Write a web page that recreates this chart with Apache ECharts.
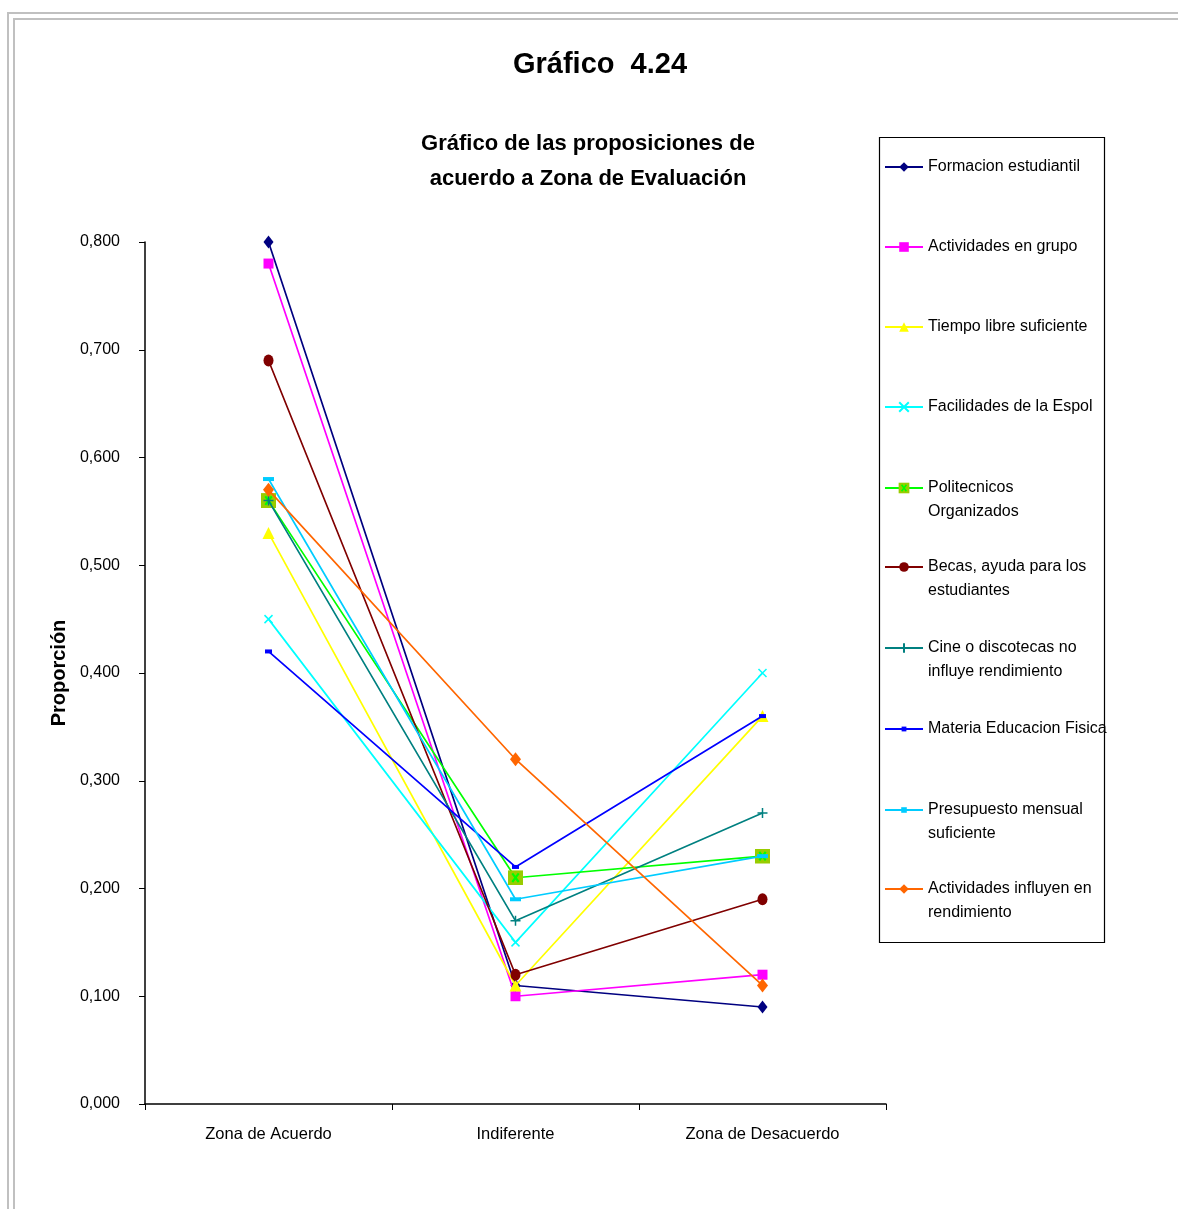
<!DOCTYPE html>
<html>
<head>
<meta charset="utf-8">
<script src="https://cdn.jsdelivr.net/npm/echarts@6/dist/echarts.min.js"></script>
<style>
html,body{margin:0;padding:0;background:#fff;}
#chart{width:1178px;height:1209px;}
</style>
</head>
<body>
<div id="chart"></div>
<script>
const categories = ['Zona de Acuerdo', 'Indiferente', 'Zona de Desacuerdo'];
const yTicks = [0, 0.1, 0.2, 0.3, 0.4, 0.5, 0.6, 0.7, 0.8];

const formacion    = [0.80, 0.11, 0.09];
const actGrupo     = [0.78, 0.10, 0.12];
const tiempoLibre  = [0.53, 0.11, 0.36];
const facilidades  = [0.45, 0.15, 0.40];
const politecnicos = [0.56, 0.21, 0.23];
const becas        = [0.69, 0.12, 0.19];
const cine         = [0.56, 0.17, 0.27];
const materia      = [0.42, 0.22, 0.36];
const presupuesto  = [0.58, 0.19, 0.23];
const actInfluyen  = [0.57, 0.32, 0.11];

const names = [
  'Formacion estudiantil',
  'Actividades en grupo',
  'Tiempo libre suficiente',
  'Facilidades de la Espol',
  'Politecnicos\nOrganizados',
  'Becas, ayuda para los\nestudiantes',
  'Cine o discotecas no\ninfluye rendimiento',
  'Materia Educacion Fisica',
  'Presupuesto mensual\nsuficiente',
  'Actividades influyen en\nrendimiento'
];
const values = [formacion, actGrupo, tiempoLibre, facilidades, politecnicos, becas, cine, materia, presupuesto, actInfluyen];
const colors = ['#000080', '#FF00FF', '#FFFF00', '#00FFFF', '#00FF00', '#800000', '#008080', '#0000FF', '#00CCFF', '#FF6600'];

const poliSvg = "<svg xmlns='http://www.w3.org/2000/svg' width='14' height='14'><rect width='14' height='14' fill='#99CC00'/><path d='M4,3L10,11M10,3L4,11' stroke='#00FF00' stroke-width='2'/></svg>";
const symbols = [
  {s: 'diamond', size: [10, 13], leg: 12},
  {s: 'rect', size: [10, 10], leg: 12},
  {s: 'triangle', size: [12, 12], leg: 12},
  {s: 'path://M0,0L10,10M10,0L0,10', size: [8, 8], stroke: true, leg: 12},
  {s: 'image://data:image/svg+xml;charset=utf-8,' + encodeURIComponent(poliSvg), size: [15, 15], leg: 14},
  {s: 'circle', size: [10, 12], leg: 12},
  {s: 'path://M5,0L5,10M0,5L10,5', size: [10, 10], stroke: true, leg: 12},
  {s: 'rect', size: [7, 4], leg: 6},
  {s: 'rect', size: [11, 4], leg: 7},
  {s: 'diamond', size: [11, 14], leg: 12}
];

const FONT = '"Liberation Sans", Arial, sans-serif';
const legendY = [165, 245, 325, 405, 486, 565, 646, 727, 808, 887];

const series = names.map((n, i) => {
  const sym = symbols[i];
  return {
    name: n,
    type: 'line',
    data: values[i],
    symbol: sym.s,
    symbolSize: sym.size,
    lineStyle: {color: colors[i], width: 1.7},
    itemStyle: sym.stroke
      ? {color: colors[i], borderColor: colors[i], borderWidth: 1.5}
      : {color: colors[i]},
    z: 2 + i
  };
});

const legends = names.map((n, i) => ({
  data: [n],
  left: 884,
  top: legendY[i] - 6,
  orient: 'vertical',
  padding: 0,
  itemWidth: 38,
  itemHeight: symbols[i].leg,
  selectedMode: false,
  formatter: (name) => name.split('\n')[0],
  textStyle: {fontFamily: FONT, fontSize: 16, color: '#000', padding: [0, 0, 0, 0]}
}));

const secondLines = [];
names.forEach((n, i) => {
  const parts = n.split('\n');
  if (parts.length > 1) {
    secondLines.push({
      type: 'text', left: 928, top: legendY[i] + 27 - 9,
      style: {text: parts[1], font: '16px ' + FONT, fill: '#000'}
    });
  }
});

const chart = echarts.init(document.getElementById('chart'), null, {renderer: 'canvas'});
chart.setOption({
  animation: false,
  backgroundColor: '#fff',
  title: [
    {text: 'Gráfico  4.24', left: 595, top: 45, textAlign: 'center',
     textStyle: {fontFamily: FONT, fontSize: 29, fontWeight: 'bold', color: '#000'}},
    {text: 'Gráfico de las proposiciones de\nacuerdo a Zona de Evaluación', left: 583, top: 121, textAlign: 'center',
     textStyle: {fontFamily: FONT, fontSize: 22, fontWeight: 'bold', color: '#000', lineHeight: 35}}
  ],
  legend: legends,
  grid: {left: 145, right: 292, top: 242, bottom: 105},
  xAxis: {
    type: 'category',
    data: categories,
    boundaryGap: true,
    axisLine: {lineStyle: {color: '#000', width: 1.5}},
    axisTick: {show: true, length: 6, lineStyle: {color: '#000'}},
    axisLabel: {fontFamily: FONT, fontSize: 16.5, color: '#000', margin: 22}
  },
  yAxis: {
    type: 'value',
    min: 0, max: 0.8, interval: 0.1,
    name: 'Proporción',
    nameLocation: 'middle',
    nameGap: 72,
    nameRotate: 90,
    nameTextStyle: {fontFamily: FONT, fontSize: 20, fontWeight: 'bold', color: '#000'},
    splitLine: {show: false},
    axisLine: {show: true, lineStyle: {color: '#000', width: 1.5}},
    axisTick: {show: true, length: 6, lineStyle: {color: '#000'}},
    axisLabel: {fontFamily: FONT, fontSize: 16, color: '#000', margin: 25,
      formatter: (v) => v.toFixed(3).replace('.', ',')}
  },
  graphic: [
    {type: 'rect', shape: {x: 8, y: 13, width: 1300, height: 1300}, style: {fill: 'none', stroke: '#c0c0c0', lineWidth: 2}, silent: true},
    {type: 'rect', shape: {x: 14, y: 19, width: 1300, height: 1300}, style: {fill: 'none', stroke: '#c0c0c0', lineWidth: 2}, silent: true},
    {type: 'rect', shape: {x: 879.5, y: 137.5, width: 225, height: 805}, style: {fill: 'none', stroke: '#000', lineWidth: 1.2}, silent: true}
  ].concat(secondLines),
  series: series
});
</script>
</body>
</html>
